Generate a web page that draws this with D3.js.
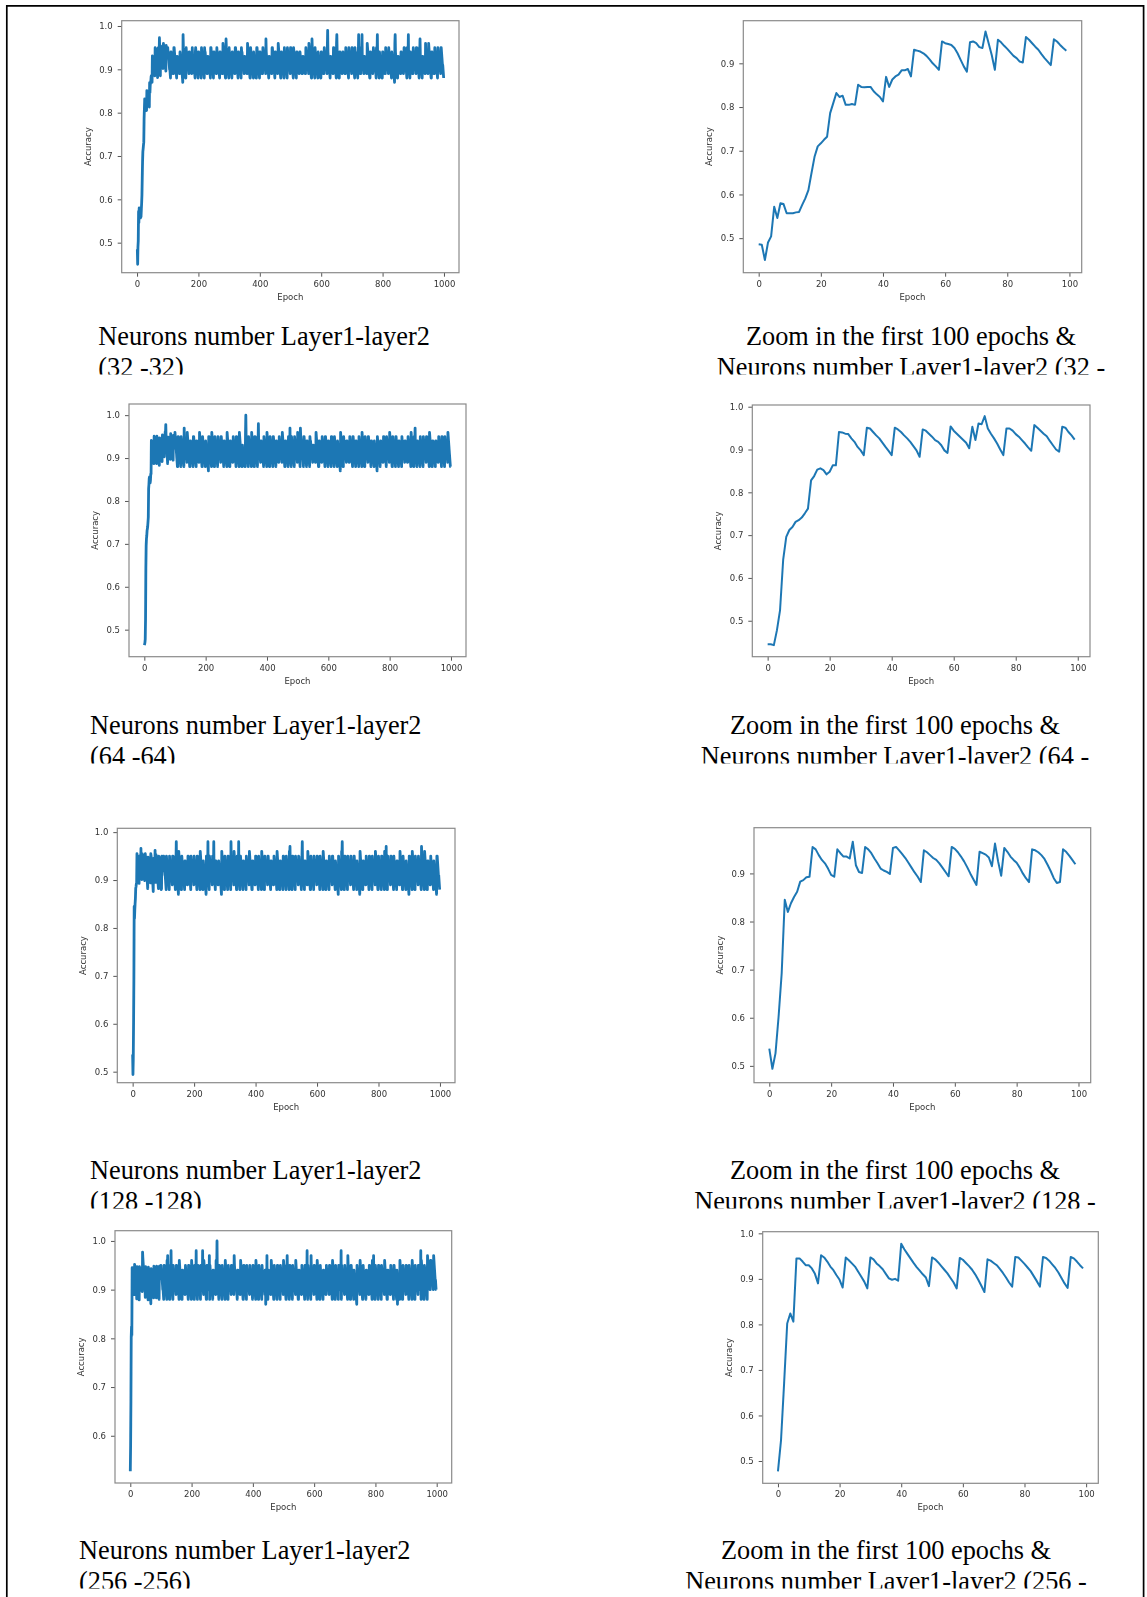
<!DOCTYPE html>
<html lang="en">
<head>
	<meta charset="UTF-8">
	<title>Accuracy per epoch for different neuron numbers</title>
	<script src="https://d3js.org/d3.v7.min.js"></script>
	<style>
		body { margin: 0; background: #fff; }
	</style>
</head>
<body>

	<svg width="1147" height="1597"></svg>

	<script>

		// accuracy of the first 100 epochs
		var zoom32 = [0.486, 0.485, 0.450, 0.490, 0.504, 0.572, 0.546, 0.580, 0.578, 0.557,
			0.557, 0.557, 0.559, 0.560, 0.576, 0.591, 0.610, 0.649, 0.687, 0.710,
			0.717, 0.725, 0.732, 0.786, 0.809, 0.832, 0.823, 0.826, 0.805, 0.805,
			0.807, 0.805, 0.851, 0.846, 0.845, 0.846, 0.846, 0.836, 0.829, 0.823,
			0.813, 0.869, 0.846, 0.863, 0.870, 0.874, 0.884, 0.884, 0.887, 0.870,
			0.931, 0.929, 0.927, 0.923, 0.917, 0.909, 0.900, 0.893, 0.885, 0.950,
			0.946, 0.944, 0.942, 0.935, 0.923, 0.908, 0.893, 0.881, 0.948, 0.950,
			0.946, 0.937, 0.935, 0.973, 0.946, 0.919, 0.885, 0.954, 0.948, 0.940,
			0.933, 0.925, 0.917, 0.912, 0.904, 0.902, 0.960, 0.954, 0.946, 0.938,
			0.931, 0.921, 0.912, 0.904, 0.896, 0.955, 0.950, 0.942, 0.935, 0.929];

		var zoom64 = [0.445, 0.445, 0.443, 0.478, 0.525, 0.642, 0.696, 0.712, 0.719, 0.731,
			0.735, 0.741, 0.751, 0.762, 0.828, 0.838, 0.853, 0.856, 0.852, 0.842,
			0.848, 0.863, 0.863, 0.941, 0.940, 0.937, 0.936, 0.926, 0.918, 0.906,
			0.898, 0.887, 0.951, 0.949, 0.941, 0.933, 0.926, 0.916, 0.906, 0.897,
			0.887, 0.951, 0.947, 0.941, 0.933, 0.926, 0.918, 0.908, 0.898, 0.883,
			0.947, 0.944, 0.937, 0.930, 0.922, 0.918, 0.910, 0.898, 0.892, 0.954,
			0.944, 0.937, 0.930, 0.923, 0.916, 0.903, 0.953, 0.922, 0.961, 0.959,
			0.978, 0.949, 0.937, 0.926, 0.914, 0.900, 0.887, 0.949, 0.949, 0.944,
			0.936, 0.930, 0.922, 0.914, 0.905, 0.897, 0.957, 0.951, 0.944, 0.937,
			0.931, 0.920, 0.910, 0.900, 0.895, 0.953, 0.951, 0.941, 0.933, 0.923];

		var zoom128 = [0.536, 0.494, 0.526, 0.602, 0.692, 0.845, 0.820, 0.838, 0.851, 0.862,
			0.883, 0.886, 0.892, 0.893, 0.955, 0.950, 0.938, 0.928, 0.921, 0.910,
			0.897, 0.893, 0.950, 0.942, 0.935, 0.935, 0.931, 0.966, 0.917, 0.903,
			0.901, 0.955, 0.950, 0.942, 0.931, 0.921, 0.910, 0.906, 0.903, 0.899,
			0.953, 0.955, 0.948, 0.940, 0.932, 0.922, 0.912, 0.902, 0.893, 0.882,
			0.948, 0.944, 0.938, 0.932, 0.928, 0.921, 0.912, 0.903, 0.894, 0.955,
			0.951, 0.944, 0.935, 0.925, 0.913, 0.900, 0.888, 0.876, 0.945, 0.942,
			0.939, 0.933, 0.915, 0.962, 0.925, 0.895, 0.953, 0.945, 0.935, 0.928,
			0.922, 0.912, 0.900, 0.890, 0.882, 0.950, 0.948, 0.944, 0.938, 0.930,
			0.918, 0.905, 0.890, 0.880, 0.882, 0.950, 0.945, 0.937, 0.928, 0.919];

		var zoom256 = [0.477, 0.546, 0.671, 0.802, 0.824, 0.806, 0.945, 0.945, 0.938, 0.930,
			0.930, 0.923, 0.911, 0.890, 0.952, 0.947, 0.938, 0.927, 0.919, 0.908,
			0.898, 0.881, 0.947, 0.941, 0.934, 0.927, 0.916, 0.905, 0.894, 0.879,
			0.947, 0.943, 0.934, 0.928, 0.921, 0.911, 0.901, 0.898, 0.900, 0.896,
			0.977, 0.965, 0.955, 0.945, 0.935, 0.926, 0.918, 0.910, 0.903, 0.884,
			0.947, 0.943, 0.936, 0.928, 0.920, 0.912, 0.902, 0.892, 0.879, 0.946,
			0.942, 0.935, 0.928, 0.920, 0.910, 0.898, 0.885, 0.871, 0.943, 0.940,
			0.935, 0.930, 0.922, 0.913, 0.903, 0.892, 0.883, 0.948, 0.947, 0.940,
			0.933, 0.925, 0.917, 0.906, 0.895, 0.883, 0.948, 0.946, 0.940, 0.932,
			0.924, 0.914, 0.902, 0.890, 0.880, 0.948, 0.945, 0.938, 0.930, 0.923];

		// first epochs of the full runs where they differ from the zoomed plot
		var head64 = [0.464, 0.466, 0.470];
		var head256 = [0.527, 0.580];

		// epochs 100-999 of the full runs, accuracy in hundredths, 100 epochs per line
		var rest32 = [
			"95 94 93 93 92 91 90 90 89 88 94 94 93 92 92 91 90 89 89 89 95 95 94 93 92 91 91 90 89 88 93 93 92 92 91 91 90 90 89 89 94 93 93 92 91 90 90 89 88 87 98 95 94 93 92 91 90 89 88 88 95 94 94 93 92 92 91 90 90 89 94 94 93 93 92 91 91 90 89 90 95 93 93 92 92 91 90 89 89 88 94 95 94 93 92 91 90 90 89 88",
			"94 94 93 92 91 91 90 89 89 88 95 94 93 93 92 91 90 90 89 88 95 94 94 93 92 92 91 90 89 89 93 93 92 92 91 90 90 89 89 88 95 95 94 93 92 91 91 90 89 88 94 94 93 93 92 91 91 90 89 89 95 94 93 92 92 91 90 90 89 88 94 94 93 92 92 91 90 89 89 89 96 95 94 93 92 91 90 89 88 88 97 95 94 93 92 91 91 90 89 88",
			"95 94 93 93 92 91 90 90 89 88 94 94 93 93 92 91 91 90 89 89 95 95 94 93 92 91 91 90 89 88 94 94 93 92 92 91 90 89 89 88 95 94 94 93 92 92 91 90 90 89 93 93 92 92 91 91 90 90 89 89 96 95 94 93 92 91 90 89 88 88 95 94 93 93 92 91 90 90 89 88 94 93 93 92 91 90 90 89 88 88 95 95 94 93 92 91 91 90 89 88",
			"94 94 93 92 92 91 90 89 89 89 95 94 94 93 92 92 91 90 90 89 97 94 93 93 92 91 90 90 89 88 93 93 92 92 91 91 90 90 89 89 95 95 94 93 92 91 91 90 89 88 94 94 93 93 92 91 91 90 89 90 96 95 94 93 92 91 90 89 88 88 94 94 93 92 92 91 90 89 89 88 95 94 93 93 92 91 90 90 89 88 95 94 94 93 92 92 91 90 90 89",
			"95 95 94 93 92 91 91 90 89 88 95 94 93 93 92 91 90 90 89 88 94 94 93 93 92 91 91 90 89 90 94 94 93 92 92 91 90 89 89 89 93 93 92 92 91 91 90 90 89 89 95 94 94 93 92 92 91 90 90 89 96 95 94 93 92 91 90 89 88 88 97 95 94 93 92 91 91 90 89 88 95 94 93 93 92 91 90 90 89 88 94 93 93 92 91 90 90 89 88 88",
			"94 94 93 92 92 91 90 89 89 89 95 94 94 93 92 92 91 90 90 89 95 99 94 93 92 91 90 90 89 88 93 93 92 92 91 91 90 90 89 89 95 95 94 93 92 91 91 90 89 88 96 98 94 93 92 91 90 89 88 88 94 94 93 93 92 91 91 90 89 90 94 94 93 92 92 91 90 89 89 89 95 94 93 93 92 91 90 90 89 88 95 94 94 93 92 92 91 90 90 89",
			"95 95 94 93 92 91 91 90 89 88 95 94 93 93 92 91 90 90 89 88 94 94 98 93 92 91 90 89 89 89 95 94 94 98 92 92 91 90 90 89 93 93 92 92 91 91 90 90 89 89 96 95 94 93 92 91 90 89 88 88 94 94 93 93 92 91 91 90 89 90 95 94 93 93 92 91 90 90 89 88 95 95 94 98 92 91 91 90 89 88 94 93 93 92 91 90 90 89 88 88",
			"94 94 93 92 92 91 90 89 89 89 95 94 94 93 92 92 91 90 90 89 95 94 93 93 92 91 90 90 89 88 94 93 93 92 91 90 90 89 88 87 96 98 94 93 92 91 90 89 88 88 93 93 92 92 91 91 90 90 89 89 94 94 93 93 92 91 91 90 89 90 95 95 94 93 92 91 91 90 89 88 95 94 93 93 98 91 90 90 89 88 94 94 93 92 92 91 90 89 89 89",
			"95 94 94 93 92 92 91 90 90 89 95 95 94 93 92 91 91 90 89 88 95 94 97 93 92 91 90 90 89 88 93 93 92 92 91 91 90 90 89 89 96 94 93 93 92 91 91 90 89 90 96 95 94 93 92 91 90 89 88 88 94 94 93 92 92 91 90 89 89 89 95 94 93 93 92 91 90 90 89 88 95 94 94 93 92 92 91 90 90 89 95 95 94 93 92 91 91 90 89 88"
		];

		var rest64 = [
			"96 95 94 93 92 91 90 89 88 88 95 95 94 93 92 91 91 90 89 88 95 94 93 93 92 91 90 90 89 88 97 94 94 93 92 92 91 90 90 89 96 95 94 93 92 91 90 89 88 88 94 94 93 92 92 91 90 89 89 88 95 95 94 93 92 91 91 90 89 88 94 94 93 93 92 91 91 90 89 89 96 95 94 93 92 91 90 89 88 88 95 94 93 93 92 91 90 90 89 88",
			"94 93 93 92 91 90 90 89 88 87 95 95 94 93 92 91 91 90 89 88 96 95 94 93 92 91 90 89 88 88 95 94 93 93 92 91 90 90 89 88 95 94 94 93 92 92 91 90 90 89 95 95 94 93 92 91 91 90 89 88 94 94 93 92 92 91 90 89 89 88 96 95 94 93 92 91 90 89 88 88 94 94 93 93 92 91 91 90 89 89 95 94 93 93 92 91 90 90 89 88",
			"95 95 94 93 92 91 91 90 89 88 96 95 94 93 92 91 90 89 88 88 93 92 92 91 90 90 89 89 88 88 96 100 95 94 93 92 91 90 89 88 95 94 93 93 92 91 90 90 89 88 96 95 94 93 92 91 90 89 88 88 95 95 94 93 92 91 91 90 89 88 95 94 98 93 92 92 91 90 90 89 94 94 93 92 92 91 90 89 89 88 95 94 93 93 92 91 90 90 89 88",
			"96 95 94 93 92 91 90 89 88 88 95 94 93 93 92 91 90 90 89 88 95 95 94 93 92 91 91 90 89 88 94 94 93 93 92 91 91 90 89 89 95 94 94 93 92 92 91 90 90 89 96 95 94 93 92 91 90 89 88 88 94 94 93 92 92 91 90 89 89 88 95 95 94 93 92 97 91 90 89 88 95 94 93 93 92 91 90 90 89 88 95 94 94 93 92 92 91 90 90 89",
			"96 95 94 93 92 91 90 89 88 97 95 94 93 93 92 91 90 90 89 88 95 95 94 93 92 91 91 90 89 88 94 94 93 92 92 91 90 89 89 88 95 94 94 93 92 92 91 90 90 89 93 93 92 92 91 91 90 90 89 89 96 95 94 93 92 91 90 89 88 88 94 94 93 93 92 91 91 90 89 89 95 94 93 93 92 91 90 90 89 88 95 95 94 93 92 91 91 90 89 88",
			"94 94 93 92 92 91 90 89 89 88 95 95 94 93 92 91 91 90 89 88 95 94 93 93 92 91 90 90 89 88 94 93 93 92 91 90 90 89 88 87 96 95 94 93 92 91 90 89 88 88 95 94 94 93 92 92 91 90 90 89 94 94 93 93 92 91 91 90 89 89 95 94 93 93 92 91 90 90 89 88 95 95 94 93 92 91 91 90 89 88 94 94 93 92 92 91 90 89 89 88",
			"95 94 93 93 92 91 90 90 89 88 96 95 94 93 92 91 90 89 88 88 95 94 94 93 92 92 91 90 90 89 95 95 94 93 92 91 91 90 89 88 94 94 93 92 92 91 90 89 89 88 94 93 93 92 91 90 90 89 88 87 95 94 93 93 92 91 90 90 89 88 94 94 93 93 92 91 91 90 89 89 95 95 94 93 92 91 91 90 89 88 95 94 94 93 92 92 91 90 90 89",
			"96 95 94 93 92 91 90 89 88 88 95 94 93 93 92 91 90 90 89 88 95 95 94 93 92 91 91 90 89 88 94 94 93 92 92 91 90 89 89 88 95 94 94 93 92 92 91 90 90 89 94 94 93 93 92 91 91 90 89 89 95 94 93 93 92 91 90 90 89 88 96 95 94 93 92 91 90 89 88 88 95 95 94 97 92 91 91 90 89 88 94 94 93 92 92 91 90 89 89 88",
			"95 94 93 93 92 91 90 90 89 88 95 94 94 93 92 92 91 90 90 89 95 95 94 93 92 91 91 90 89 88 96 95 94 93 92 91 90 89 88 88 94 94 93 92 92 91 90 89 89 88 94 94 93 93 92 91 91 90 89 89 95 94 93 93 92 91 90 90 89 88 95 95 94 93 92 91 91 90 89 88 95 94 94 93 92 92 91 90 90 89 96 95 94 93 92 91 90 89 88 88"
		];

		var rest128 = [
			"95 95 94 93 92 91 91 90 89 88 95 94 93 93 92 91 90 90 89 88 95 94 94 93 92 92 91 90 90 89 95 95 94 93 92 91 91 90 89 88 95 94 98 93 92 91 90 89 88 87 96 95 94 93 92 91 90 89 88 88 95 94 93 93 92 91 90 90 89 88 94 94 93 93 92 91 91 90 89 89 95 95 94 93 92 91 91 90 89 88 95 94 94 93 92 92 91 90 90 89",
			"95 94 93 93 92 91 90 90 89 88 95 95 94 93 92 91 91 90 89 88 96 95 94 93 92 91 90 89 88 88 94 93 93 92 91 90 90 89 88 87 95 94 93 93 92 98 90 90 89 88 95 94 94 93 92 92 91 90 90 89 95 95 94 93 98 91 91 90 89 88 94 94 93 93 92 91 91 90 89 89 94 93 93 92 91 90 90 89 88 87 96 95 94 93 92 91 90 89 88 88",
			"95 94 93 93 92 91 90 90 89 88 95 95 94 93 92 91 91 90 89 88 98 94 94 93 92 92 91 90 90 89 96 95 94 93 92 91 90 89 88 88 95 94 93 93 92 98 90 90 89 88 95 95 94 93 92 91 91 90 89 88 94 94 93 92 92 91 90 89 89 88 95 94 94 93 92 92 91 90 90 89 96 95 94 93 92 91 90 89 88 88 94 94 93 93 92 91 91 90 89 89",
			"95 95 94 93 92 91 91 90 89 88 95 94 93 93 92 91 90 90 89 88 96 95 94 93 92 91 90 89 88 88 95 94 94 93 92 92 91 90 90 89 95 95 94 93 92 91 91 90 89 88 94 94 93 93 92 91 91 90 89 89 95 94 93 93 92 91 90 90 89 88 96 95 94 93 92 91 90 89 88 88 94 94 93 92 92 91 90 89 89 88 95 95 94 93 92 91 91 90 89 88",
			"95 94 93 93 92 91 90 90 89 88 96 95 97 93 92 91 90 89 88 88 95 95 94 93 92 91 91 90 89 88 95 94 94 93 92 92 91 90 90 89 95 94 93 93 92 91 90 90 89 88 95 95 98 93 92 91 91 90 89 88 94 94 93 93 92 91 91 90 89 89 96 95 94 93 92 91 90 89 88 88 95 94 93 93 92 91 90 90 89 88 95 94 94 93 92 92 91 90 90 89",
			"95 95 94 93 92 91 91 90 89 88 95 94 93 93 92 91 90 90 89 88 96 95 94 93 92 91 90 89 88 88 94 94 93 92 92 91 90 89 89 88 95 94 94 93 92 92 91 90 90 89 95 95 94 93 92 91 91 90 89 88 94 93 93 92 91 90 90 89 88 87 95 94 93 93 92 91 90 90 89 88 96 95 98 93 92 91 90 89 88 88 95 95 94 93 92 91 91 90 89 88",
			"95 94 94 93 92 92 91 90 90 89 95 94 93 93 92 91 90 90 89 88 95 95 94 93 92 91 91 90 89 88 94 93 93 92 91 90 90 89 88 87 96 95 94 93 92 91 90 89 88 88 94 94 93 93 92 91 91 90 89 89 95 94 93 93 92 91 90 90 89 88 95 95 94 93 92 91 91 90 89 88 95 94 94 93 92 92 91 90 90 89 96 95 94 93 92 91 90 89 88 88",
			"95 94 93 93 92 91 90 90 89 88 95 95 94 93 92 91 91 90 89 88 96 95 94 93 92 97 90 89 88 88 95 94 94 93 92 92 91 90 90 89 95 95 94 93 92 91 91 90 89 88 95 94 93 93 92 91 90 90 89 88 94 94 93 93 92 91 91 90 89 89 96 95 94 93 92 91 90 89 88 88 95 94 93 93 92 91 90 90 89 88 94 93 93 92 91 90 90 89 88 87",
			"95 95 94 93 92 91 91 90 89 88 96 95 94 93 92 91 90 89 88 88 95 94 94 93 92 92 91 90 90 89 95 94 93 93 92 91 90 90 89 88 97 95 94 93 92 91 91 90 89 88 96 95 94 93 92 91 90 89 88 88 94 94 93 93 92 91 91 90 89 89 95 94 93 93 92 91 90 90 89 88 94 93 93 92 91 90 90 89 88 87 95 95 94 93 92 91 91 90 89 88"
		];

		var rest256 = [
			"95 94 93 93 92 91 90 90 89 88 95 95 94 93 92 91 91 90 89 88 96 95 97 93 92 91 90 89 88 88 95 94 93 98 92 91 90 90 89 88 95 94 94 93 92 92 91 90 90 89 95 95 94 93 92 91 91 90 89 88 96 95 94 93 92 91 90 89 88 88 94 94 93 93 92 91 91 90 89 89 95 94 93 93 92 91 90 90 89 88 95 95 94 93 92 91 91 90 89 88",
			"96 95 94 93 92 91 90 89 88 88 95 94 93 93 92 98 90 90 89 88 95 95 94 93 92 91 91 90 89 88 95 94 94 93 92 92 98 90 90 89 96 95 94 93 92 91 90 89 88 88 95 95 94 93 92 91 91 90 97 88 95 94 93 93 92 91 90 90 89 88 94 94 93 93 92 91 91 90 89 89 96 95 94 100 93 92 91 90 89 88 95 95 94 93 92 91 91 90 89 88",
			"95 94 93 93 92 91 90 90 89 88 96 95 94 93 92 91 90 89 88 88 95 94 94 93 92 92 91 90 90 89 95 95 94 93 92 91 91 90 89 97 95 94 93 93 92 91 90 90 89 88 94 94 93 93 92 91 91 90 89 89 96 95 94 93 92 91 90 89 88 88 95 95 94 93 92 91 91 90 89 88 95 94 94 93 92 92 91 90 90 89 95 94 93 93 92 91 90 90 89 88",
			"95 95 94 93 92 91 91 90 89 88 96 95 94 93 92 91 90 89 88 88 95 94 93 93 92 91 90 90 89 88 95 94 94 93 92 92 91 90 90 89 94 93 87 92 91 90 97 89 88 88 94 94 93 93 92 91 91 90 89 89 96 95 94 93 92 91 90 89 88 88 95 94 93 93 92 91 90 90 89 88 95 95 94 93 92 91 91 90 89 88 95 94 94 93 92 92 91 90 90 89",
			"96 95 94 93 92 91 90 89 88 88 95 94 97 93 92 91 90 90 89 88 95 95 94 93 92 91 91 90 89 88 95 94 94 93 92 92 91 90 90 89 96 95 94 93 92 91 90 89 88 88 94 94 93 93 92 91 91 90 89 89 95 94 93 93 92 91 90 90 89 88 95 95 94 93 92 91 91 98 89 88 95 94 93 93 92 91 90 90 89 88 97 94 94 93 92 92 91 90 90 89",
			"95 95 94 93 92 91 91 90 89 88 96 95 94 93 92 91 90 89 88 88 95 94 93 93 92 91 90 90 89 88 94 94 93 93 92 91 91 90 89 89 95 94 94 93 92 92 91 90 90 89 95 95 94 93 92 91 91 90 89 88 96 95 94 93 92 91 90 89 88 88 95 94 93 93 92 91 90 90 89 88 95 95 94 93 92 91 91 90 98 88 95 94 94 93 92 92 91 90 90 89",
			"95 94 93 93 92 91 90 90 89 88 97 95 94 93 92 91 90 89 88 88 95 95 94 93 92 91 91 90 89 88 94 93 93 92 91 90 90 89 88 87 95 94 94 93 92 92 91 90 90 89 96 95 94 93 92 91 90 89 88 88 95 94 93 93 92 91 90 90 89 88 94 94 93 93 92 91 91 90 89 89 95 95 94 93 92 91 91 90 89 88 96 95 94 93 97 91 90 89 88 88",
			"95 94 93 93 92 91 90 90 89 88 95 95 94 93 92 91 91 90 89 88 95 94 94 93 92 92 91 90 90 89 96 95 94 93 92 91 90 89 88 88 94 94 93 93 92 91 91 90 89 89 95 94 93 93 92 91 90 90 89 88 95 95 94 93 92 91 91 90 89 88 94 93 87 92 91 90 90 89 88 88 96 95 94 93 92 91 90 89 88 88 95 94 94 93 92 92 91 90 90 89",
			"95 95 94 93 92 91 91 90 89 88 95 94 93 93 92 91 90 90 89 88 96 95 94 93 92 91 90 89 88 88 95 94 94 93 92 92 91 90 90 89 95 95 94 93 92 91 91 90 98 88 96 95 94 93 92 91 90 89 88 88 95 94 93 93 92 91 90 90 89 88 97 96 95 94 93 92 92 91 90 90 96 96 95 94 93 93 92 91 91 90 97 96 95 94 93 92 92 91 90 90"
		];

		var xTicksFull = [0, 200, 400, 600, 800, 1000];
		var xTicksZoom = [0, 20, 40, 60, 80, 100];
		var yTicks = [0.5, 0.6, 0.7, 0.8, 0.9, 1.0];

		var neurons = ["32", "64", "128", "256"];
		var captionLeft = [
			["Neurons number Layer1-layer2", "(32 -32)"],
			["Neurons number Layer1-layer2", "(64 -64)"],
			["Neurons number Layer1-layer2", "(128 -128)"],
			["Neurons number Layer1-layer2", "(256 -256)"]
		];
		var captionRight = [
			["Zoom in the first 100 epochs &", "Neurons number Layer1-layer2 (32 -"],
			["Zoom in the first 100 epochs &", "Neurons number Layer1-layer2 (64 -"],
			["Zoom in the first 100 epochs &", "Neurons number Layer1-layer2 (128 -"],
			["Zoom in the first 100 epochs &", "Neurons number Layer1-layer2 (256 -"]
		];


		function parseRest(lines) {
			return lines.join(" ").trim().split(/\s+/).map(function(s) { return +s / 100; });
		}

		function fullRun(head, zoom, rest) {
			return head.concat(zoom.slice(head.length), parseRest(rest));
		}

		var zoomRuns = [zoom32, zoom64, zoom128, zoom256];
		var fullRuns = [
			fullRun([], zoom32, rest32),
			fullRun(head64, zoom64, rest64),
			fullRun([], zoom128, rest128),
			fullRun(head256, zoom256, rest256)
		];

		// where each row of the page sits
		var rows = [
			{ left: [121.7, 20.7, 337.3, 252], leftY: [0.4307, 1.0122],
			  right: [743.3, 20.7, 338.4, 252], rightY: [0.421, 0.9975],
			  base: 345, capL: 98.3, capR: 911 },
			{ left: [129, 404, 337, 252.7], leftY: [0.437, 1.026],
			  right: [752.3, 405, 337.7, 251.7], rightY: [0.416, 1.004],
			  base: 734, capL: 90, capR: 895 },
			{ left: [117.3, 828.3, 337.7, 254.4], leftY: [0.477, 1.008],
			  right: [754, 827.7, 336.7, 255], rightY: [0.465, 0.995],
			  base: 1179, capL: 90, capR: 895 },
			{ left: [115, 1230.7, 336.7, 252.3], leftY: [0.503, 1.021],
			  right: [762.7, 1231.7, 335.6, 251.6], rightY: [0.451, 1.0036],
			  base: 1559, capL: 79, capR: 886 }
		];

		var svg = d3.select("svg");

		var defs = svg.append("defs");

		// the plots in the document are soft, slightly blurred bitmaps
		defs.append("filter")
			.attr("id", "soft")
			.attr("x", "-5%").attr("y", "-5%")
			.attr("width", "110%").attr("height", "110%")
			.append("feGaussianBlur")
			.attr("stdDeviation", 0.65);

		// table frame (bottom edge is off the page)
		svg.append("path")
			.attr("d", "M6.8,1600 V5.8 H1143.6 V1600")
			.attr("fill", "none")
			.attr("stroke", "#000")
			.attr("stroke-width", 1.7);


		function drawPlot(box, yDomain, xDomain, xTicks, values, lineWidth) {

			var w = box[2], h = box[3];

			var g = svg.append("g")
				.attr("transform", "translate(" + box[0] + "," + box[1] + ")")
				.attr("filter", "url(#soft)");

			var x = d3.scaleLinear().domain(xDomain).range([0, w]);
			var y = d3.scaleLinear().domain(yDomain).range([h, 0]);

			var line = d3.line()
				.x(function(d, i) { return x(i); })
				.y(function(d) { return y(d); });

			g.append("path")
				.datum(values)
				.attr("fill", "none")
				.attr("stroke", "#1f77b4")
				.attr("stroke-width", lineWidth)
				.attr("stroke-linejoin", "round")
				.attr("d", line);

			g.append("g")
				.attr("transform", "translate(0," + h + ")")
				.call(d3.axisBottom(x).tickValues(xTicks).tickSize(4).tickPadding(4).tickFormat(d3.format("d")));

			var ticks = yTicks.filter(function(t) { return t >= yDomain[0] && t <= yDomain[1]; });

			g.append("g")
				.call(d3.axisLeft(y).tickValues(ticks).tickSize(4).tickPadding(5).tickFormat(d3.format(".1f")));

			g.selectAll(".domain").remove();
			g.selectAll(".tick line").attr("stroke", "#555");
			g.selectAll(".tick text")
				.attr("fill", "#333")
				.style("font-family", "'DejaVu Sans', sans-serif")
				.style("font-size", "8.5px");

			g.append("rect")
				.attr("width", w)
				.attr("height", h)
				.attr("fill", "none")
				.attr("stroke", "#8a8a8a")
				.attr("stroke-width", 1.2);

			g.append("text")
				.attr("x", w / 2)
				.attr("y", h + 27)
				.attr("text-anchor", "middle")
				.attr("fill", "#333")
				.style("font-family", "'DejaVu Sans', sans-serif")
				.style("font-size", "8.5px")
				.text("Epoch");

			g.append("text")
				.attr("transform", "translate(-31," + (h / 2) + ") rotate(-90)")
				.attr("text-anchor", "middle")
				.attr("fill", "#333")
				.style("font-family", "'DejaVu Sans', sans-serif")
				.style("font-size", "8.5px")
				.text("Accuracy");
		}


		rows.forEach(function(r, i) {

			drawPlot(r.left, r.leftY, [-49.95, 1048.95], xTicksFull, fullRuns[i], 2.8);
			drawPlot(r.right, r.rightY, [-4.95, 103.95], xTicksZoom, zoomRuns[i], 2);

			// captions: the second line is cut by the cell height
			defs.append("clipPath")
				.attr("id", "cap" + neurons[i])
				.append("rect")
				.attr("x", 0)
				.attr("y", r.base - 40)
				.attr("width", 1147)
				.attr("height", 69.5);

			var cap = svg.append("g")
				.attr("clip-path", "url(#cap" + neurons[i] + ")")
				.style("font-family", "'Liberation Serif', 'Times New Roman', serif")
				.style("font-size", "26.3px")
				.attr("fill", "#000");

			captionLeft[i].forEach(function(t, k) {
				cap.append("text")
					.attr("x", r.capL)
					.attr("y", r.base + k * 31)
					.text(t);
			});

			captionRight[i].forEach(function(t, k) {
				cap.append("text")
					.attr("x", r.capR)
					.attr("y", r.base + k * 31)
					.attr("text-anchor", "middle")
					.text(t);
			});
		});

	</script>

</body>
</html>
